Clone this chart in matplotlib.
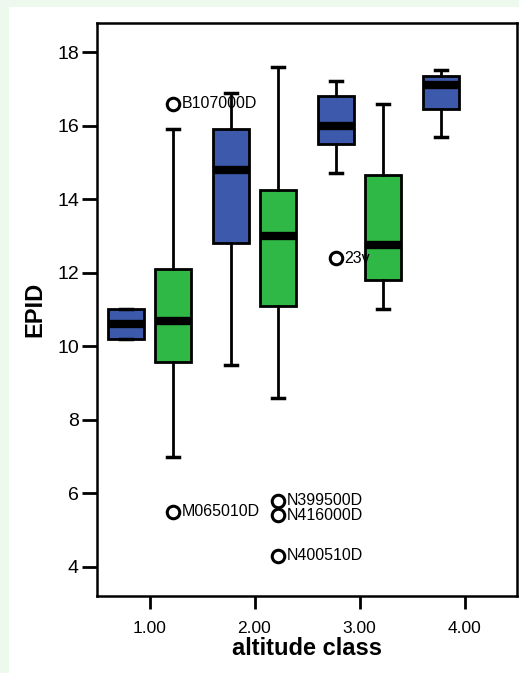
import matplotlib.pyplot as plt
import matplotlib.patches as mpatches

plt.rcParams['font.family'] = ['Liberation Sans', 'DejaVu Sans']

# box statistics, per altitude class
classes = [1, 2, 3, 4]
blue_q1 = [10.2, 12.8, 15.5, 16.45]
blue_med = [10.6, 14.8, 16.0, 17.1]
blue_q3 = [11.0, 15.9, 16.8, 17.35]
blue_lo = [10.2, 9.5, 14.7, 15.7]
blue_hi = [11.0, 16.9, 17.2, 17.5]

green_classes = [1, 2, 3]
green_q1 = [9.57, 11.1, 11.8]
green_med = [10.7, 13.0, 12.75]
green_q3 = [12.1, 14.25, 14.65]
green_lo = [7.0, 8.6, 11.0]
green_hi = [15.9, 17.6, 16.6]

# labelled outliers: (class, series, value, label)
out_class = [1, 1, 2, 2, 2, 3]
out_series = ['green', 'green', 'green', 'green', 'green', 'blue']
out_value = [16.6, 5.5, 5.8, 5.4, 4.3, 12.4]
out_label = ['B107000D', 'M065010D', 'N399500D', 'N416000D', 'N400510D', '23v']

tick_labels = ['1.00', '2.00', '3.00', '4.00']

fig = plt.figure(figsize=(5.19, 6.73), dpi=100, facecolor='#eef9ee')
fig.patches.append(mpatches.Rectangle((9 / 519, 0), 1, 1 - 7 / 673,
                                      transform=fig.transFigure,
                                      facecolor='white', edgecolor='none', zorder=-10))
ax = fig.add_axes([97 / 519, 77 / 673, 420 / 519, 573 / 673])

off = 0.225
box_w = 0.34


def stats(q1, med, q3, lo, hi):
    return [dict(q1=a, med=b, q3=c, whislo=d, whishi=e, fliers=[])
            for a, b, c, d, e in zip(q1, med, q3, lo, hi)]


def draw(st, pos, color):
    ax.bxp(st, positions=pos, widths=box_w, capwidths=0.11, patch_artist=True,
           showfliers=False,
           boxprops=dict(facecolor=color, edgecolor='black', linewidth=2),
           medianprops=dict(color='black', linewidth=6, solid_capstyle='butt'),
           whiskerprops=dict(color='black', linewidth=2),
           capprops=dict(color='black', linewidth=2.5))


draw(stats(blue_q1, blue_med, blue_q3, blue_lo, blue_hi),
     [c - off for c in classes], '#3d59ab')
draw(stats(green_q1, green_med, green_q3, green_lo, green_hi),
     [c + off for c in green_classes], '#30b846')

for c, s, v, lab in zip(out_class, out_series, out_value, out_label):
    x = c + off if s == 'green' else c - off
    ax.plot(x, v, 'o', mfc='white', mec='black', mew=2.2, ms=9, zorder=3)
    ax.annotate(lab, (x, v), xytext=(6, 0), textcoords='offset points',
                va='center', ha='left', fontsize=11.5)

ax.set_xlim(0.5, 4.5)
ax.set_ylim(3.21, 18.79)
ax.set_xticks(classes)
ax.set_xticklabels(tick_labels, fontsize=12.5)
ax.set_yticks([4, 6, 8, 10, 12, 14, 16, 18])
ax.tick_params(axis='y', labelsize=14, length=11, width=2, pad=2)
ax.tick_params(axis='x', length=9, width=2, pad=9)
for sp in ax.spines.values():
    sp.set_linewidth(1.8)

ax.set_xlabel('altitude class', fontsize=17, fontweight='bold', labelpad=1)
ax.set_ylabel('EPID', fontsize=17, fontweight='bold', labelpad=8)

fig.savefig('out.png', dpi=100, facecolor=fig.get_facecolor())
